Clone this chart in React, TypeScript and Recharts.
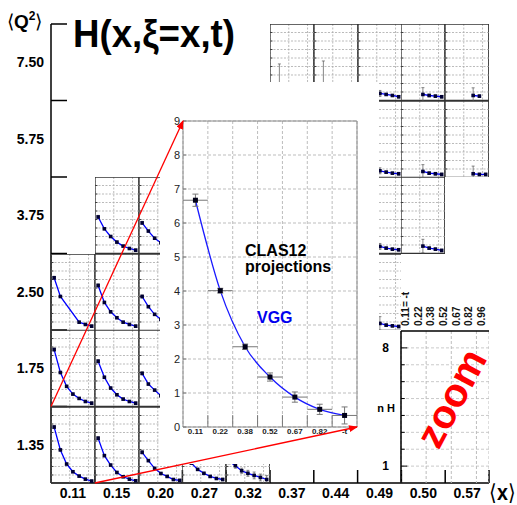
import React from 'react';
import {
  LineChart,
  ComposedChart,
  Line,
  Scatter,
  XAxis,
  YAxis,
  CartesianGrid,
  ErrorBar,
  ReferenceLine,
  ReferenceArea,
} from 'recharts';

const FONT = '"Liberation Sans", Arial, Helvetica, sans-serif';

// ---------- categories / tick labels ----------
const xBins = ['0.11', '0.15', '0.20', '0.27', '0.32', '0.37', '0.44', '0.49', '0.50', '0.57'];
const q2Bins = ['1.35', '1.75', '2.50', '3.75', '5.75', '7.50'];
const tBins = ['0.11', '0.22', '0.38', '0.52', '0.67', '0.82', '0.96'];
const insetTLabels = ['0.11', '0.22', '0.38', '0.52', '0.67', '0.82', '-t'];
const zoomTLabels = ['0.11= -t', '0.22', '0.38', '0.52', '0.67', '0.82', '0.96'];
const insetYTicks = [0, 1, 2, 3, 4, 5, 6, 7, 8, 9];
const zoomYTicks = [1, 8];

// ---------- inset (zoomed panel) ----------
const insetH = [6.67, 4.01, 2.36, 1.47, 0.88, 0.52, 0.34];
const insetErr = [0.18, 0.07, 0.08, 0.12, 0.15, 0.15, 0.25];

// ---------- errors ----------
const errLow = [0.18, 0.08, 0.08, 0.1, 0.1, 0.12, 0.15];
const errWide = [0.3, 0.3, 0.3, 0.35, 0.4, 0.4, 0.45];
const errHiX7 = [0, 0, 0, 0.35, 0.12, 0.12, 0.15];
const errHiX8 = [0, 0, 0, 0.8, 0.15, 0.15, 0.15];
const errHiX9 = [0, 0, 0, 0, 0.9, 0.15, 0.15];
const errTop37 = [0, 3.1, 0.3, 0.3, 0.3, 0.3, 0.3];
const errTop44 = [0, 3.45, 0.3, 0.3, 0.3, 0.3, 0.3];

// ---------- panel values H(x, xi=x, t), one array per (Q2, x) cell ----------
const h_135_011 = [6.64, 3.95, 2.29, 1.38, 0.87, 0.51, 0.28];
const h_135_015 = [5.33, 3.28, 2.17, 1.3, 0.79, 0.51, 0.32];
const h_135_020 = [3.67, 2.69, 1.78, 1.18, 0.83, 0.47, 0.36];
const h_135_027 = [3.2, 2.4, 1.66, 1.2, 0.83, 0.59, 0.47];
const h_135_032 = [2.6, 2.1, 1.5, 1.2, 0.95, 0.71, 0.47];
const h_175_011 = [6.7, 4.0, 2.37, 1.46, 0.95, 0.59, 0.39];
const h_175_015 = [5.33, 3.44, 2.17, 1.38, 0.87, 0.59, 0.39];
const h_175_020 = [3.9, 2.64, 1.93, 1.26, 0.85, 0.58, 0.42];
const h_250_011 = [6.2, 4.0, null, null, 0.98, 0.71, 0.51];
const h_250_015 = [5.3, 3.3, 2.2, 1.5, 0.98, 0.71, 0.51];
const h_250_020 = [4.0, 2.8, 1.9, 1.3, 0.9, 0.62, 0.45];
const h_250_049 = [null, null, null, 0.83, 0.63, 0.55, 0.47];
const h_375_015 = [4.3, 2.9, 2.0, 1.34, 0.87, 0.59, 0.39];
const h_375_020 = [3.6, 2.64, 1.8, 1.26, 0.88, 0.6, 0.42];
const h_375_049 = [null, null, null, 0.83, 0.63, 0.51, 0.44];
const h_375_050 = [null, null, null, 0.87, 0.63, 0.51, 0.36];
const h_575_049 = [null, null, null, 0.79, 0.63, 0.51, 0.44];
const h_575_050 = [null, null, null, 0.71, 0.51, 0.44, 0.36];
const h_575_057 = [null, null, null, null, 0.44, 0.36, 0.36];
const h_750_037 = [null, 1.2, 0.9, 0.7, 0.55, 0.45, 0.4];
const h_750_044 = [null, 1.2, 0.9, 0.7, 0.55, 0.45, 0.4];
const h_750_049 = [null, null, null, 0.83, 0.71, 0.59, 0.44];
const h_750_050 = [null, null, null, 0.71, 0.59, 0.51, 0.44];
const h_750_057 = [null, null, null, null, 0.59, 0.51, null];

// [Q2 bin, x bin, values, errors]
const panels: [string, string, (number | null)[], number[]][] = [
  ['1.35', '0.11', h_135_011, errLow],
  ['1.35', '0.15', h_135_015, errLow],
  ['1.35', '0.20', h_135_020, errLow],
  ['1.35', '0.27', h_135_027, errLow],
  ['1.35', '0.32', h_135_032, errWide],
  ['1.75', '0.11', h_175_011, errLow],
  ['1.75', '0.15', h_175_015, errLow],
  ['1.75', '0.20', h_175_020, errLow],
  ['2.50', '0.11', h_250_011, errLow],
  ['2.50', '0.15', h_250_015, errLow],
  ['2.50', '0.20', h_250_020, errLow],
  ['2.50', '0.49', h_250_049, errHiX8],
  ['3.75', '0.15', h_375_015, errLow],
  ['3.75', '0.20', h_375_020, errLow],
  ['3.75', '0.49', h_375_049, errHiX7],
  ['3.75', '0.50', h_375_050, errHiX8],
  ['5.75', '0.49', h_575_049, errHiX7],
  ['5.75', '0.50', h_575_050, errHiX8],
  ['5.75', '0.57', h_575_057, errHiX9],
  ['7.50', '0.37', h_750_037, errTop37],
  ['7.50', '0.44', h_750_044, errTop44],
  ['7.50', '0.49', h_750_049, errHiX7],
  ['7.50', '0.50', h_750_050, errHiX8],
  ['7.50', '0.57', h_750_057, errHiX9],
];

// ---------- layout ----------
const W = 517;
const H = 505;
const PL = 51;
const PR = 489;
const PT = 24;
const PB = 483;
const COLW = (PR - PL) / xBins.length;
const ROWH = (PB - PT) / q2Bins.length;

const INSET = { left: 160, top: 82, width: 219, height: 382, mTop: 39, mRight: 22, yW: 23, xH: 37 };
const insetPlotL = INSET.left + INSET.yW;
const insetPlotT = INSET.top + INSET.mTop;
const insetPlotR = INSET.left + INSET.width - INSET.mRight;
const insetPlotB = INSET.top + INSET.height - INSET.xH;

const ZOOM = { left: 371, top: 280, width: 118, height: 203, yW: 30, xH: 51 };

const bandCenters = tBins.map((_, i) => i + 0.5);
const bandEdges = [1, 2, 3, 4, 5, 6];
const unitTicks = [1, 2, 3, 4, 5, 6, 7, 8];
const mainXTicks = xBins.map((_, i) => i + 0.5);
const mainYTicks = q2Bins.map((_, i) => i + 0.5);
const mainXEdges = xBins.map((_, i) => i + 1);
const mainYEdges = q2Bins.map((_, i) => i + 1);

const squareDot = (s: number, fill: string) => (p: any) => {
  const k = 'd' + p.index;
  if (p.cx == null || p.cy == null || p.value == null || (p.payload && p.payload.h == null)) return <g key={k} />;
  return <rect key={k} x={p.cx - s / 2} y={p.cy - s / 2} width={s} height={s} fill={fill} />;
};

// horizontal dashed grid lines drawn through the chart's own y scale
const hGrid = (stroke: string, dash: string) =>
  unitTicks.map((k) => (
    <ReferenceLine key={'hg' + k} y={k} stroke={stroke} strokeDasharray={dash} strokeWidth={0.8} ifOverflow="visible" />
  ));

function Panel({ q, x, h, e }: { q: string; x: string; h: (number | null)[]; e: number[] }) {
  const qi = q2Bins.indexOf(q);
  const xi = xBins.indexOf(x);
  const left = PL + xi * COLW;
  const top = PB - (qi + 1) * ROWH;
  const data = tBins.map((t, i) => ({ t, x: i + 0.5, h: h[i], e: h[i] == null ? null : e[i] }));
  return (
    <div style={{ position: 'absolute', left, top, width: COLW, height: ROWH }}>
      <ComposedChart width={COLW} height={ROWH} data={data} margin={{ top: 0, right: 0, bottom: 0, left: 0 }}>
        <XAxis type="number" dataKey="x" domain={[0, 7]} ticks={bandEdges} hide />
        <YAxis type="number" dataKey="h" domain={[0, 9]} ticks={unitTicks} hide allowDataOverflow />
        <CartesianGrid stroke="#a8a8a8" strokeDasharray="2 1.5" strokeWidth={0.8} horizontal={false} />
        {hGrid('#a8a8a8', '2 1.5')}
        {unitTicks.map((k) => (
          <ReferenceLine
            key={'pt' + k}
            segment={[{ x: 0, y: k }, { x: 0.4, y: k }]}
            stroke="#333"
            strokeWidth={0.9}
            ifOverflow="visible"
          />
        ))}
        <ReferenceArea x1={0} x2={7} y1={0} y2={9} fill="none" stroke="#333" strokeWidth={1.3} ifOverflow="visible" />
        <Line
          dataKey="h"
          stroke="#0000ff"
          strokeWidth={1.3}
          connectNulls
          isAnimationActive={false}
          dot={squareDot(3.6, '#000033')}
        >
          <ErrorBar dataKey="e" direction="y" width={1.5} stroke="#555" strokeWidth={0.7} />
        </Line>
      </ComposedChart>
    </div>
  );
}

function RotTick(props: any) {
  const { x, y, payload } = props;
  const label = zoomTLabels[Math.floor(payload.value)];
  return (
    <text
      x={x + 2}
      y={y}
      transform={`rotate(-90 ${x + 2} ${y})`}
      fontSize={10}
      fontWeight="bold"
      fontFamily={FONT}
      fill="#111"
      textAnchor="start"
    >
      {label}
    </text>
  );
}

export default function App() {
  const insetData = tBins.map((t, i) => ({ t, x: i + 0.5, h: insetH[i], e: insetErr[i], ex: 0.5 }));
  const zoomData = tBins.map((t, i) => ({ t, x: i + 0.5 }));
  const mainData = xBins.map((b, i) => ({ b, x: i + 0.5 }));

  return (
    <div style={{ position: 'absolute', left: 0, top: 0, width: W, height: H, background: '#fff', fontFamily: FONT }}>
      {/* main frame: <x> and <Q2> axes */}
      <div style={{ position: 'absolute', left: 0, top: 0 }}>
        <LineChart width={W} height={H} data={mainData} margin={{ top: PT, right: W - PR, bottom: 0, left: 0 }}>
          <XAxis
            type="number"
            dataKey="x"
            domain={[0, xBins.length]}
            ticks={mainXTicks}
            interval={0}
            tickFormatter={(v: number) => xBins[Math.floor(v)]}
            tickLine={false}
            tickSize={0}
            tickMargin={5}
            height={H - PB}
            axisLine={{ stroke: '#000', strokeWidth: 1.5 }}
            tick={{ fontSize: 14, fontWeight: 'bold', fill: '#000', fontFamily: FONT }}
          />
          <YAxis
            type="number"
            dataKey="x"
            domain={[0, q2Bins.length]}
            allowDataOverflow
            ticks={mainYTicks}
            interval={0}
            tickFormatter={(v: number) => q2Bins[Math.floor(v)]}
            tickLine={false}
            tickSize={0}
            tickMargin={7}
            width={PL}
            axisLine={{ stroke: '#000', strokeWidth: 1.5 }}
            tick={{ fontSize: 14, fontWeight: 'bold', fill: '#000', fontFamily: FONT }}
          />
          {mainYEdges.map((k) => (
            <ReferenceLine
              key={'ly' + k}
              segment={[{ x: 0, y: k }, { x: 16 / COLW, y: k }]}
              stroke="#000"
              strokeWidth={1.5}
              ifOverflow="visible"
            />
          ))}
          {mainXEdges.map((k) => (
            <ReferenceLine
              key={'lx' + k}
              segment={[{ x: k, y: 0 }, { x: k, y: 13 / ROWH }]}
              stroke="#000"
              strokeWidth={1.5}
              ifOverflow="visible"
            />
          ))}
        </LineChart>
      </div>

      {/* mini panels */}
      {panels.map(([q, x, h, e]) => (
        <Panel key={q + '_' + x} q={q} x={x} h={h} e={e} />
      ))}

      {/* inset: zoom of the Q2=1.35, x=0.11 cell */}
      <div
        style={{
          position: 'absolute',
          left: INSET.left,
          top: INSET.top,
          width: INSET.width,
          height: INSET.height,
          background: '#fff',
        }}
      >
        <ComposedChart
          width={INSET.width}
          height={INSET.height}
          data={insetData}
          margin={{ top: INSET.mTop, right: INSET.mRight, bottom: 0, left: 0 }}
        >
          <XAxis
            type="number"
            dataKey="x"
            domain={[0, 7]}
            ticks={bandCenters}
            interval={0}
            tickFormatter={(v: number) => insetTLabels[Math.floor(v)]}
            tickLine={false}
            axisLine={false}
            tickSize={0}
            tickMargin={1}
            height={INSET.xH}
            tick={{ fontSize: 8, fontWeight: 'bold', fill: '#222', fontFamily: FONT }}
          />
          <XAxis xAxisId="g" type="number" dataKey="x" domain={[0, 7]} ticks={bandEdges} hide />
          <YAxis
            type="number"
            dataKey="h"
            domain={[0, 9]}
            ticks={insetYTicks}
            interval={0}
            tickLine={false}
            axisLine={false}
            tickSize={0}
            tickMargin={3}
            width={INSET.yW}
            tick={{ fontSize: 11, fill: '#222', fontFamily: FONT }}
          />
          <CartesianGrid xAxisId="g" stroke="#bdbdbd" strokeDasharray="3 2" />
          <ReferenceArea x1={0} x2={7} y1={0} y2={9} fill="none" stroke="#8a8a8a" strokeWidth={1} ifOverflow="visible" />
          {bandEdges.map((k) => (
            <ReferenceLine
              key={'it' + k}
              segment={[{ x: k, y: 0 }, { x: k, y: 0.35 }]}
              stroke="#777"
              ifOverflow="visible"
            />
          ))}
          {insetYTicks.map((k) => (
            <ReferenceLine
              key={'iy' + k}
              segment={[{ x: 0, y: k }, { x: 0.14, y: k }]}
              stroke="#777"
              ifOverflow="visible"
            />
          ))}
          <Line
            dataKey="h"
            type="monotone"
            stroke="#1a1aff"
            strokeWidth={1.3}
            dot={false}
            isAnimationActive={false}
          />
          <Scatter
            dataKey="h"
            isAnimationActive={false}
            shape={(p: any) => <rect x={p.cx - 2.5} y={p.cy - 2.5} width={5} height={5} fill="#000018" />}
          >
            <ErrorBar dataKey="ex" direction="x" width={0} stroke="#777" strokeWidth={1} />
            <ErrorBar dataKey="e" direction="y" width={3} stroke="#777" strokeWidth={1} />
          </Scatter>
        </ComposedChart>
      </div>

      {/* "zoom" frame: -t bins vs H */}
      <div style={{ position: 'absolute', left: ZOOM.left, top: ZOOM.top, width: ZOOM.width, height: ZOOM.height }}>
        <ComposedChart
          width={ZOOM.width}
          height={ZOOM.height}
          data={zoomData}
          margin={{ top: 0, right: 0, bottom: 0, left: 0 }}
        >
          <XAxis
            orientation="top"
            type="number"
            dataKey="x"
            domain={[0, 7]}
            ticks={bandCenters}
            interval={0}
            tickLine={false}
            axisLine={false}
            tickSize={0}
            tickMargin={5}
            height={ZOOM.xH}
            tick={<RotTick />}
          />
          <XAxis xAxisId="g" type="number" dataKey="x" domain={[0, 7]} ticks={bandEdges} hide />
          <YAxis
            type="number"
            dataKey="x"
            domain={[0, 9]}
            allowDataOverflow
            ticks={zoomYTicks}
            interval={0}
            tickLine={false}
            tickSize={0}
            tickMargin={12}
            width={ZOOM.yW}
            axisLine={{ stroke: '#000', strokeWidth: 1.5 }}
            tick={{ fontSize: 12, fontWeight: 'bold', fill: '#000', fontFamily: FONT }}
          />
          <CartesianGrid xAxisId="g" stroke="#bdbdbd" strokeDasharray="3 2" horizontal={false} />
          {hGrid('#bdbdbd', '3 2')}
          <ReferenceLine y={9} stroke="#000" strokeWidth={1.5} ifOverflow="visible" />
          {unitTicks.map((k) => (
            <ReferenceLine
              key={'zt' + k}
              segment={[{ x: 0, y: k }, { x: k === 1 || k === 8 ? 0.5 : 0.3, y: k }]}
              stroke="#000"
              ifOverflow="visible"
            />
          ))}
        </ComposedChart>
      </div>

      {/* annotations */}
      <svg width={W} height={H} style={{ position: 'absolute', left: 0, top: 0, pointerEvents: 'none' }}>
        <defs>
          <marker id="ah" markerWidth="9" markerHeight="7" refX="8" refY="3.5" orient="auto" markerUnits="userSpaceOnUse">
            <path d="M0,0 L9,3.5 L0,7 z" fill="#ff0000" />
          </marker>
        </defs>
        <line
          x1={PL}
          y1={PB - ROWH}
          x2={insetPlotL}
          y2={insetPlotT}
          stroke="#ff0000"
          strokeWidth={1.3}
          markerEnd="url(#ah)"
        />
        <line
          x1={PL + COLW}
          y1={PB}
          x2={insetPlotR}
          y2={insetPlotB}
          stroke="#ff0000"
          strokeWidth={1.3}
          markerEnd="url(#ah)"
        />
        <text x={73} y={47} fontSize={38} fontWeight="bold" fontFamily={FONT} fill="#000" textLength={162} lengthAdjust="spacingAndGlyphs">
          H(x,ξ=x,t)
        </text>
        <text x={7} y={28} fontSize={19} fontWeight="bold" fontFamily={FONT} fill="#000">
          <tspan fontWeight="normal">⟨</tspan>Q
          <tspan dy={-8} fontSize={12}>2</tspan>
          <tspan dy={8} fontWeight="normal">⟩</tspan>
        </text>
        <text x={489} y={500} fontSize={22} fontWeight="bold" fontFamily={FONT} fill="#000" textLength={27} lengthAdjust="spacingAndGlyphs">
          <tspan fontWeight="normal">⟨</tspan>x<tspan fontWeight="normal">⟩</tspan>
        </text>
        <text x={245} y={256} fontSize={16} fontWeight="bold" fontFamily={FONT} fill="#000">
          CLAS12
        </text>
        <text x={245} y={272} fontSize={16} fontWeight="bold" fontFamily={FONT} fill="#000">
          projections
        </text>
        <text x={257} y={323} fontSize={16} fontWeight="bold" fontFamily={FONT} fill="#0000ee">
          VGG
        </text>
        <text x={386} y={412} fontSize={11} fontWeight="bold" fontFamily={FONT} fill="#000" textAnchor="middle">
          n H
        </text>
        <text
          x={451}
          y={398}
          fontSize={40}
          fontWeight="bold"
          fontFamily={FONT}
          fill="#ff0000"
          textAnchor="middle"
          dominantBaseline="central"
          transform="rotate(-62 451 398)"
        >
          zoom
        </text>
      </svg>
    </div>
  );
}
